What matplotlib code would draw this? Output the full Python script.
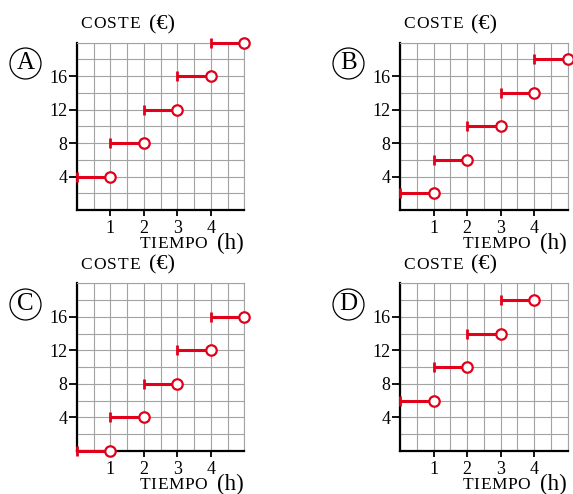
import matplotlib.pyplot as plt

plt.rcParams['font.family'] = ['Liberation Serif', 'DejaVu Serif']

hours = [0, 1, 2, 3, 4, 5]
cost_a = [4, 8, 12, 16, 20]
cost_b = [2, 6, 10, 14, 18]
cost_c = [0, 4, 8, 12, 16]
cost_d = [6, 10, 14, 18]
panel_letters = ['A', 'B', 'C', 'D']
x_ticks = [1, 2, 3, 4]
y_ticks = [4, 8, 12, 16]

RED = '#e3001b'
GRID = '#a3a3a3'

fig = plt.figure(figsize=(5.73, 4.94), dpi=100)
renderer = fig.canvas.get_renderer()

# axes boxes in pixels (left, top, right, bottom)
boxes = [(77, 42.7, 244.3, 210), (400, 42.7, 567.7, 210),
         (77, 283.3, 244.3, 451), (400, 283.3, 567.5, 451)]
W, H = 573, 494


def tracked_text(x, y, s, size, track):
    # letter-spaced caps, x/y in pixels from top-left, y is baseline
    for ch in s:
        t = fig.text(x / W, 1 - y / H, ch, fontsize=size,
                     ha='left', va='baseline')
        x += t.get_window_extent(renderer).width + track


def draw_panel(ax, costs, letter, box):
    l, t, r, b = box
    ax.set_xlim(0, 5)
    ax.set_ylim(0, 20)
    ax.set_xticks(x_ticks)
    ax.set_yticks(y_ticks)
    ax.set_xticks([i * 0.5 for i in range(11)], minor=True)
    ax.set_yticks([i * 2 for i in range(11)], minor=True)
    ax.grid(True, which='both', color=GRID, lw=0.8, zorder=0)
    ax.set_axisbelow(True)
    ax.tick_params(which='minor', length=0)
    ax.tick_params(which='major', width=1.3, labelsize=13, colors='black')
    ax.tick_params(axis='x', which='major', length=4.5, pad=3)
    ax.tick_params(axis='y', which='major', length=6, pad=1)
    for side in ['top', 'right']:
        ax.spines[side].set_color(GRID)
        ax.spines[side].set_linewidth(0.8)
    for side in ['left', 'bottom']:
        ax.spines[side].set_linewidth(1.6)

    # step segments: closed start (bar), open end (circle)
    for i, c in enumerate(costs):
        x0, x1 = hours[i], hours[i + 1]
        ax.plot([x0, x1], [c, c], color=RED, lw=2.2, zorder=5,
                clip_on=False, solid_capstyle='butt')
        ax.plot(x0, c, marker='|', color=RED, ms=7, mew=2, zorder=6,
                clip_on=False)
        ax.plot(x1, c, marker='o', mfc='white', mec=RED, ms=7.5, mew=1.6,
                zorder=7, clip_on=False)

    # axis titles
    tracked_text(l + 3.2, t - 14.4, 'COSTE', 12.5, 1.2)
    fig.text((l + 71.5) / W, 1 - (t - 13.5) / H, '(€)', fontsize=16,
             ha='left', va='baseline')
    tracked_text(l + 62.5, b + 38.3, 'TIEMPO', 12.5, 0.5)
    fig.text((l + 140) / W, 1 - (b + 39.5) / H, '(h)', fontsize=16.5,
             ha='left', va='baseline')

    # circled letter
    ax.plot(-0.308, 0.879, marker='o', ms=22.3, mfc='none', mec='black',
            mew=0.9, transform=ax.transAxes, clip_on=False)
    ax.text(-0.308, 0.877, letter, transform=ax.transAxes, fontsize=18,
            ha='center', va='center')


for box, costs, letter in zip(boxes, [cost_a, cost_b, cost_c, cost_d],
                              panel_letters):
    l, t, r, b = box
    ax = fig.add_axes([l / W, 1 - b / H, (r - l) / W, (b - t) / H])
    draw_panel(ax, costs, letter, box)

fig.savefig('out.png', dpi=100)
